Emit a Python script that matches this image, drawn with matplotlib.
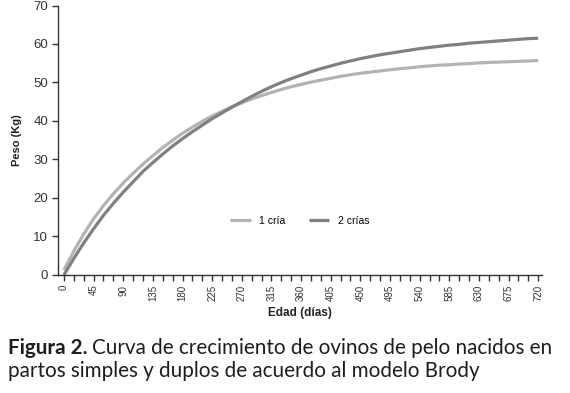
import matplotlib
matplotlib.use("Agg")
import matplotlib.pyplot as plt

# age in days (one point every 15 days)
dias = list(range(0, 721, 15))

# weights (kg)
una_cria = [1.3, 6.2, 10.6, 14.6, 18.0, 21.1, 23.9, 26.4, 28.8, 31.0,
            33.1, 35.0, 36.8, 38.4, 39.9, 41.3, 42.5, 43.7, 44.7, 45.7,
            46.6, 47.4, 48.2, 48.9, 49.5, 50.1, 50.6, 51.1, 51.6, 52.0,
            52.4, 52.7, 53.0, 53.3, 53.6, 53.8, 54.1, 54.3, 54.5, 54.6,
            54.8, 54.9, 55.1, 55.2, 55.3, 55.4, 55.5, 55.6, 55.7]
dos_crias = [0.0, 4.3, 8.3, 12.0, 15.5, 18.6, 21.5, 24.2, 26.9, 29.2,
             31.4, 33.5, 35.4, 37.2, 38.9, 40.6, 42.1, 43.6, 45.0, 46.4,
             47.7, 48.9, 50.0, 51.0, 51.9, 52.8, 53.6, 54.3, 55.0, 55.6,
             56.2, 56.7, 57.2, 57.6, 58.0, 58.4, 58.8, 59.1, 59.4, 59.7,
             59.9, 60.2, 60.4, 60.6, 60.8, 61.0, 61.2, 61.4, 61.5]

arial = ['Liberation Sans', 'DejaVu Sans']
caption_font = ['Lato', 'DejaVu Sans']

fig = plt.figure(figsize=(5.7, 3.93), dpi=100)
ax = fig.add_axes([0.1018, 0.3003, 0.8482, 0.6857])

ax.plot(dias, una_cria, color='#b3b3b3', lw=2.3, label='1 cría', solid_capstyle='butt')
ax.plot(dias, dos_crias, color='#808080', lw=2.3, label='2 crías', solid_capstyle='butt')

ax.set_xlim(-9, 725)
ax.set_ylim(0, 70)
ax.set_yticks(range(0, 71, 10))
ax.set_xticks(dias)
ax.set_xticklabels([str(d) if d % 45 == 0 else '' for d in dias],
                   rotation=90, fontsize=7, family=arial)
for lab in ax.get_yticklabels():
    lab.set_family(arial)
    lab.set_fontsize(9.5)

for s in ['top', 'right']:
    ax.spines[s].set_visible(False)
for s in ['left', 'bottom']:
    ax.spines[s].set_color('#333333')
    ax.spines[s].set_linewidth(1.0)
ax.tick_params(axis='both', direction='out', length=4, width=1, color='#333333',
               labelcolor='#333333', pad=3)

ax.set_ylabel('Peso (Kg)', fontsize=8, fontweight='bold', family=arial,
              color='#222222', labelpad=8)
ax.set_xlabel('Edad (días)', fontsize=8.5, fontweight='bold', family=arial,
              color='#222222', labelpad=4)

ax.legend(loc='center', bbox_to_anchor=(0.5, 0.2), ncol=2, frameon=False,
          handlelength=2.0, columnspacing=2.2,
          prop={'family': arial, 'size': 7.5})

# caption
fig.canvas.draw()
r = fig.canvas.get_renderer()
t1 = fig.text(8 / 570, 1 - 354 / 393, 'Figura 2.', fontsize=14.9, fontweight='bold',
              family=caption_font, color='#1e1e1e', va='baseline')
bb = t1.get_window_extent(renderer=r)
fig.text((bb.x1 + 5) / 570, 1 - 354 / 393,
         'Curva de crecimiento de ovinos de pelo nacidos en',
         fontsize=14.9, family=caption_font, color='#1e1e1e', va='baseline')
fig.text(8 / 570, 1 - 377 / 393, 'partos simples y duplos de acuerdo al modelo Brody',
         fontsize=14.9, family=caption_font, color='#1e1e1e', va='baseline')

fig.savefig('out.png', dpi=100)
